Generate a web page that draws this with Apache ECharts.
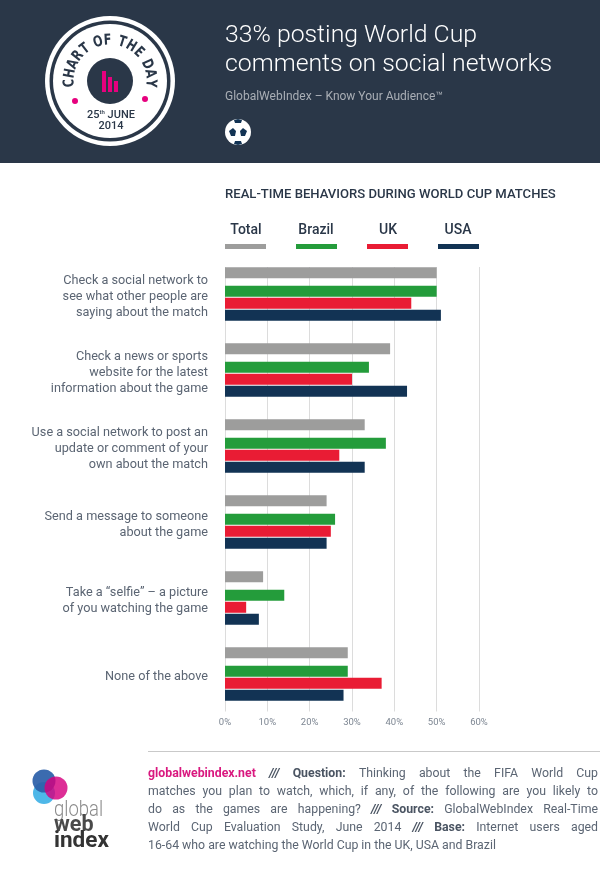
<!DOCTYPE html>
<html>
<head>
<meta charset="utf-8">
<style>html,body{margin:0;padding:0;background:#fff}#chart{width:600px;height:879px}</style>
<script src="https://cdn.jsdelivr.net/npm/echarts@6/dist/echarts.min.js"></script>
</head>
<body>
<div id="chart"></div>
<script>
var categories = [
    "Check a social network to\nsee what other people are\nsaying about the match",
    "Check a news or sports\nwebsite for the latest\ninformation about the game",
    "Use a social network to post an\nupdate or comment of your\nown about the match",
    "Send a message to someone\nabout the game",
    "Take a \u201Cselfie\u201D \u2013 a picture\nof you watching the game",
    "None of the above"
];
var total = [50, 39, 33, 24, 9, 29];
var brazil = [50, 34, 38, 26, 14, 29];
var uk = [44, 30, 27, 25, 5, 37];
var usa = [51, 43, 33, 24, 8, 28];
var seriesNames = ["Total", "Brazil", "UK", "USA"];
var seriesColors = ["#9d9d9c", "#249c3b", "#e91c34", "#123354"];

var footerLines = [
    [["globalwebindex.net", "p"], ["///", "s"], ["Question:", "b"], ["Thinking about the FIFA World Cup", "n"]],
    [["matches you plan to watch, which, if any, of the following are you likely to", "n"]],
    [["do as the games are happening?", "n"], ["///", "s"], ["Source:", "b"], ["GlobalWebIndex Real-Time", "n"]],
    [["World Cup Evaluation Study, June 2014", "n"], ["///", "s"], ["Base:", "b"], ["Internet users aged", "n"]],
    [["16-64 who are watching the World Cup in the UK, USA and Brazil", "n"]]
];

var FONT = "Roboto";
var DARK = "#2a3748";
var graphics = [];

function txt(x, y, text, font, fill, align, extra) {
    var el = {
        type: "text", x: x, y: y, z: 5,
        style: { text: text, font: font, fill: fill, textAlign: align || "left", verticalAlign: "middle" }
    };
    if (extra) { el.style.rich = extra; }
    return el;
}
function circle(cx, cy, r, fill, opacity) {
    return { type: "circle", z: 5, shape: { cx: cx, cy: cy, r: r }, style: { fill: fill, opacity: opacity === undefined ? 1 : opacity } };
}
function rect(x, y, w, h, fill) {
    return { type: "rect", z: 5, shape: { x: x, y: y, width: w, height: h }, style: { fill: fill } };
}

// header
graphics.push(rect(0, 0, 600, 163, DARK));
graphics.push(txt(225, 36, "33% posting World Cup", "300 24.8px " + FONT, "#fff"));
graphics.push(txt(225, 65, "comments on social networks", "300 24.8px " + FONT, "#fff"));
graphics.push(txt(225, 97, "GlobalWebIndex \u2013 Know Your Audience\u2122", "12px " + FONT, "#a9aeb5"));

// badge
graphics.push(circle(110, 81, 65, "#fff"));
graphics.push(circle(110, 81, 60.5, DARK));
graphics.push(circle(110, 81, 57, "#fff"));
graphics.push(circle(110, 81, 23, DARK));
graphics.push(rect(102, 71, 4, 21, "#e6007e"));
graphics.push(rect(108, 77, 4, 15, "#e6007e"));
graphics.push(rect(114, 81, 4, 11, "#e6007e"));
graphics.push(circle(75, 101, 3, "#e6007e"));
graphics.push(circle(145, 99, 3, "#e6007e"));
graphics.push(txt(111, 115, "25{s|th} JUNE", "500 11px " + FONT, DARK, "center", { s: { font: "500 6px " + FONT, fill: DARK, verticalAlign: "top" } }));
graphics.push(txt(111, 126, "2014", "500 11px " + FONT, DARK, "center"));

var badgeText = "CHART OF THE DAY";
var step = 13.8;
var ang = -93;
for (var i = 0; i < badgeText.length; i++) {
    var ch = badgeText[i];
    if (ch === " ") { ang += step * 0.5; continue; }
    var rad = ang * Math.PI / 180;
    var t = txt(110 + 40.5 * Math.sin(rad), 81 - 40.5 * Math.cos(rad), ch, "bold 15px 'DejaVu Sans'", DARK, "center");
    t.scaleX = 0.75;
    t.rotation = -rad;
    graphics.push(t);
    ang += step;
}

// football
graphics.push(circle(238, 132, 13, "#fff"));
graphics.push({ type: "polygon", z: 5, shape: { points: [[233, 128], [236, 131], [235, 136], [231, 136], [229, 131]] }, style: { fill: "#123354" } });
graphics.push({ type: "polygon", z: 5, shape: { points: [[243, 128], [247, 131], [245, 136], [241, 136], [240, 131]] }, style: { fill: "#123354" } });
graphics.push({ type: "polygon", z: 5, shape: { points: [[234, 120], [238, 119], [242, 120], [241, 123], [235, 123]] }, style: { fill: "#123354" } });
graphics.push({ type: "polygon", z: 5, shape: { points: [[235, 141], [241, 141], [242, 144], [238, 145], [234, 144]] }, style: { fill: "#123354" } });

// chart heading, legend labels
graphics.push(txt(225, 195, "REAL-TIME BEHAVIORS DURING WORLD CUP MATCHES", "500 13.1px " + FONT, DARK));
var legendCenters = [246, 316, 388, 458];
seriesNames.forEach(function (name, idx) {
    graphics.push(txt(legendCenters[idx], 230, name, "500 14px " + FONT, DARK, "center"));
});

// hide the grid lines above the first bar and below the plot
graphics.push(rect(220, 251, 265, 16, "#fff"));
graphics.push(rect(220, 711.5, 265, 5, "#fff"));

// footer
graphics.push(rect(148, 751, 452, 1, "#c9c9c9"));
var measure = document.createElement("canvas").getContext("2d");
var footerStyles = {
    n: { font: "12.3px " + FONT, fill: "#5b6573" },
    b: { font: "bold 12.3px " + FONT, fill: "#4a5462" },
    s: { font: "italic bold 12.3px " + FONT, fill: "#4a5462" },
    p: { font: "bold 12.3px " + FONT, fill: "#d9187f" }
};
footerLines.forEach(function (line, row) {
    var words = [];
    line.forEach(function (part) {
        part[0].split(" ").forEach(function (w) { words.push({ text: w, style: footerStyles[part[1]] }); });
    });
    var used = 0;
    words.forEach(function (w) {
        measure.font = w.style.font;
        w.width = measure.measureText(w.text).width;
        used += w.width;
    });
    measure.font = footerStyles.n.font;
    var space = measure.measureText(" ").width;
    var gap = row === footerLines.length - 1 ? space : (598 - 148 - used) / (words.length - 1);
    var x = 148;
    words.forEach(function (w) {
        graphics.push(txt(x, 774 + row * 18, w.text, w.style.font, w.style.fill));
        x += w.width + gap;
    });
});

// logo
graphics.push(circle(44, 793, 11, "#45b3e7", 0.95));
graphics.push(circle(44, 781, 11.5, "#2a5ea8", 0.92));
graphics.push(circle(56, 788, 11.5, "#d6007f", 0.82));
var logoGlobal = txt(54, 810, "global", "300 22px " + FONT, "#8b8b8b");
logoGlobal.scaleX = 0.84;
graphics.push(logoGlobal);
graphics.push(txt(54, 826, "web", "bold 21.5px " + FONT, "#4a4a4a"));
graphics.push(txt(54, 841, "index", "bold 22.5px " + FONT, "#333"));

var chart = echarts.init(document.getElementById("chart"));

function barSeries(name, data, color) {
    return { name: name, type: "bar", data: data, barWidth: 11, barGap: "9%", itemStyle: { color: color }, silent: true };
}
// empty series, only takes up room in the bar group
function spacer(name, width) {
    return { name: name, type: "bar", data: [], barWidth: width, barGap: "9%", silent: true };
}

var option = {
    animation: false,
    textStyle: { fontFamily: FONT },
    legend: {
        data: seriesNames,
        left: 225,
        top: 244,
        padding: 0,
        itemWidth: 41,
        itemHeight: 5,
        itemGap: 30,
        icon: "rect",
        selectedMode: false,
        formatter: function () { return ""; }
    },
    grid: { left: 225, top: 258.5, width: 254, height: 456 },
    xAxis: {
        type: "value",
        min: 0,
        max: 60,
        interval: 10,
        axisLine: { show: false },
        axisTick: { show: false },
        axisLabel: { formatter: "{value}%", fontSize: 9.5, color: "#7d8692", margin: 3.5 },
        splitLine: { show: true, lineStyle: { color: "#dcdcdc", width: 1 } }
    },
    yAxis: {
        type: "category",
        inverse: true,
        data: categories,
        axisLine: { show: false },
        axisTick: { show: false },
        axisLabel: { fontSize: 12.7, lineHeight: 16, color: "#5b6573", margin: 17, align: "right" }
    },
    series: [
        barSeries(seriesNames[0], total, seriesColors[0]),
        spacer("gap", 6),
        barSeries(seriesNames[1], brazil, seriesColors[1]),
        barSeries(seriesNames[2], uk, seriesColors[2]),
        barSeries(seriesNames[3], usa, seriesColors[3]),
        spacer("gap2", 4)
    ],
    graphic: graphics
};
chart.setOption(option);
</script>
</body>
</html>
